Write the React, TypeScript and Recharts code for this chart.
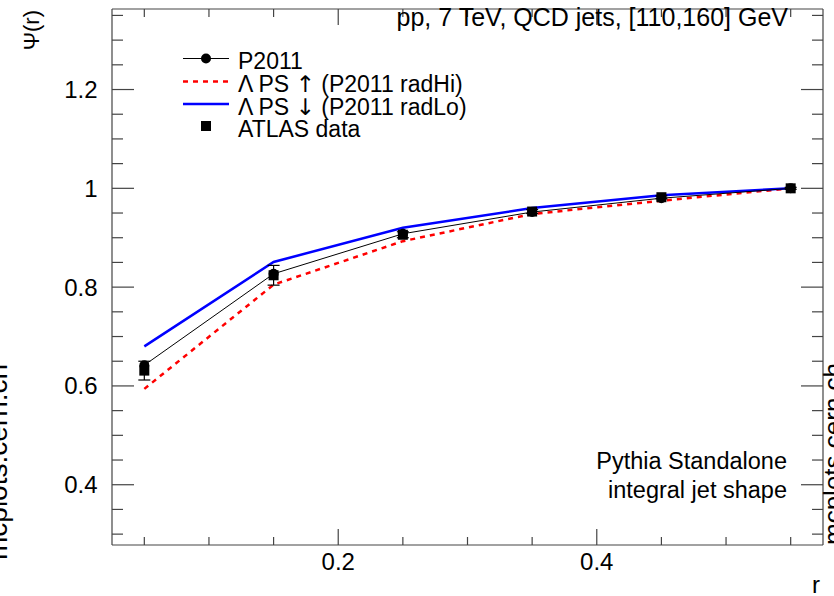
import React from 'react';
import { ComposedChart, Line, Scatter, XAxis, YAxis, ErrorBar } from 'recharts';

// ---- data ----
const rValues = [0.05, 0.15, 0.25, 0.35, 0.45, 0.55];
const p2011 = [0.642, 0.827, 0.908, 0.952, 0.98, 1.0];
const radHi = [0.594, 0.805, 0.893, 0.948, 0.975, 1.0];
const radLo = [0.68, 0.851, 0.92, 0.96, 0.986, 1.0];
const atlas = [0.631, 0.824, 0.906, 0.953, 0.982, 1.0];
const atlasErr = [0.019, 0.02, 0.006, 0.004, 0.003, 0.002];

const xTicks = [0.05, 0.1, 0.15, 0.2, 0.25, 0.3, 0.35, 0.4, 0.45, 0.5, 0.55];
const xMajor = [0.2, 0.4];
const xLabels = ['0.2', '0.4'];
const yTicks = [0.3, 0.35, 0.4, 0.45, 0.5, 0.55, 0.6, 0.65, 0.7, 0.75, 0.8, 0.85, 0.9, 0.95, 1.0, 1.05, 1.1, 1.15, 1.2, 1.25, 1.3, 1.35];
const yMajor = [0.4, 0.6, 0.8, 1.0, 1.2];
const yLabels = ['0.4', '0.6', '0.8', '1', '1.2'];

const xDomain = [0.025, 0.575];
const yDomain = [0.278, 1.363];

const data = rValues.map((r, i) => ({
  r,
  p2011: p2011[i],
  radHi: radHi[i],
  radLo: radLo[i],
  atlas: atlas[i],
  atlasErr: atlasErr[i],
}));

const FONT = '"Liberation Sans", Arial, Helvetica, sans-serif';
const AX = '#444';
const W = 834;
const H = 596;

const findIdx = (arr: number[], v: number) => arr.findIndex((m) => Math.abs(m - v) < 1e-9);

const BottomTick = (props: any) => {
  const { x, y, payload } = props;
  const idx = findIdx(xMajor, payload.value);
  const len = idx >= 0 ? 16 : 8;
  return (
    <g>
      <line x1={x} y1={y} x2={x} y2={y - len} stroke={AX} strokeWidth={1.2} />
      {idx >= 0 && (
        <text x={x} y={y + 24.5} textAnchor="middle" fontFamily={FONT} fontSize={24} fill="#000">
          {xLabels[idx]}
        </text>
      )}
    </g>
  );
};

const TopTick = (props: any) => {
  const { x, y, payload } = props;
  const idx = findIdx(xMajor, payload.value);
  const len = idx >= 0 ? 16 : 8;
  return <line x1={x} y1={y} x2={x} y2={y + len} stroke={AX} strokeWidth={1.2} />;
};

const LeftTick = (props: any) => {
  const { x, y, payload } = props;
  const idx = findIdx(yMajor, payload.value);
  const len = idx >= 0 ? 22 : 11;
  return (
    <g>
      <line x1={x} y1={y} x2={x + len} y2={y} stroke={AX} strokeWidth={1.2} />
      {idx >= 0 && (
        <text x={x - 14.5} y={y + 8.5} textAnchor="end" fontFamily={FONT} fontSize={24} fill="#000">
          {yLabels[idx]}
        </text>
      )}
    </g>
  );
};

const RightTick = (props: any) => {
  const { x, y, payload } = props;
  const idx = findIdx(yMajor, payload.value);
  const len = idx >= 0 ? 22 : 11;
  return <line x1={x} y1={y} x2={x - len} y2={y} stroke={AX} strokeWidth={1.2} />;
};

const SquareShape = (p: any) => {
  if (p.cx == null || p.cy == null) return <g />;
  return <rect x={p.cx - 5} y={p.cy - 5} width={10} height={10} fill="#000" />;
};

const ARROW_FONT = '"DejaVu Sans", "Noto Sans", sans-serif';
const UP = '\u2191\uFE0E';
const DOWN = '\u2193\uFE0E';

export default function App() {
  return (
    <div style={{ position: 'absolute', left: 0, top: 0, width: W, height: H, background: '#fff' }}>
      <ComposedChart
        width={W}
        height={H}
        data={data}
        margin={{ top: 0, right: 0, bottom: 0, left: 0 }}
      >
        <XAxis
          xAxisId="b"
          type="number"
          dataKey="r"
          domain={xDomain}
          allowDataOverflow
          ticks={xTicks}
          interval={0}
          height={51}
          tickSize={0}
          tickMargin={0}
          tickLine={false}
          axisLine={{ stroke: AX, strokeWidth: 1.2 }}
          tick={<BottomTick />}
        />
        <XAxis
          xAxisId="t"
          orientation="top"
          type="number"
          dataKey="r"
          domain={xDomain}
          allowDataOverflow
          ticks={xTicks}
          interval={0}
          height={9}
          tickSize={0}
          tickMargin={0}
          tickLine={false}
          axisLine={{ stroke: AX, strokeWidth: 1.2 }}
          tick={<TopTick />}
        />
        <YAxis
          yAxisId="l"
          type="number"
          domain={yDomain}
          allowDataOverflow
          ticks={yTicks}
          interval={0}
          width={112}
          tickSize={0}
          tickMargin={0}
          tickLine={false}
          axisLine={{ stroke: AX, strokeWidth: 1.2 }}
          tick={<LeftTick />}
        />
        <YAxis
          yAxisId="r"
          orientation="right"
          type="number"
          domain={yDomain}
          allowDataOverflow
          ticks={yTicks}
          interval={0}
          width={11}
          tickSize={0}
          tickMargin={0}
          tickLine={false}
          axisLine={{ stroke: AX, strokeWidth: 1.2 }}
          tick={<RightTick />}
        />
        <Line
          xAxisId="b"
          yAxisId="l"
          type="linear"
          dataKey="radHi"
          stroke="#ff0000"
          strokeWidth={2.5}
          strokeDasharray="5 5"
          dot={false}
          activeDot={false}
          isAnimationActive={false}
        />
        <Line
          xAxisId="b"
          yAxisId="l"
          type="linear"
          dataKey="radLo"
          stroke="#0000ff"
          strokeWidth={2.5}
          dot={false}
          activeDot={false}
          isAnimationActive={false}
        />
        <Scatter
          xAxisId="b"
          yAxisId="l"
          dataKey="atlas"
          fill="#000"
          shape={SquareShape}
          isAnimationActive={false}
        >
          <ErrorBar dataKey="atlasErr" direction="y" width={6} stroke="#000" strokeWidth={1.2} />
        </Scatter>
        <Line
          xAxisId="b"
          yAxisId="l"
          type="linear"
          dataKey="p2011"
          stroke="#000"
          strokeWidth={1}
          dot={{ r: 5, fill: '#000', stroke: '#000', strokeWidth: 0 }}
          activeDot={false}
          isAnimationActive={false}
        />
      </ComposedChart>

      <svg
        width={W}
        height={H}
        style={{ position: 'absolute', left: 0, top: 0, pointerEvents: 'none' }}
        fontFamily={FONT}
      >
        {/* top label */}
        <text x={788} y={26} textAnchor="end" fontSize={25} fill="#000">
          pp, 7 TeV, QCD jets, [110,160] GeV
        </text>

        {/* legend */}
        <line x1={183} y1={58.5} x2={229} y2={58.5} stroke="#000" strokeWidth={1} />
        <circle cx={206} cy={58.5} r={5} fill="#000" />
        <text x={238} y={68.5} fontSize={23} fill="#000">P2011</text>

        <line x1={183} y1={81.5} x2={229} y2={81.5} stroke="#ff0000" strokeWidth={2.5} strokeDasharray="5 5" />
        <text x={238} y={91.5} fontSize={23} fill="#000">
          Λ PS <tspan fontFamily={ARROW_FONT} fill="#000">{UP}</tspan> (P2011 radHi)
        </text>

        <line x1={183} y1={104} x2={229} y2={104} stroke="#0000ff" strokeWidth={2.5} />
        <text x={238} y={114.5} fontSize={23} fill="#000">
          Λ PS <tspan fontFamily={ARROW_FONT} fill="#000">{DOWN}</tspan> (P2011 radLo)
        </text>

        <rect x={201} y={121} width={10} height={10} fill="#000" />
        <text x={238} y={137} fontSize={23} fill="#000">ATLAS data</text>

        {/* bottom-right labels */}
        <text x={787} y={469} textAnchor="end" fontSize={23.5} fill="#000">Pythia Standalone</text>
        <text x={787} y={498} textAnchor="end" fontSize={23.5} fill="#000">integral jet shape</text>

        {/* axis titles */}
        <text x={39} y={10} transform="rotate(-90, 39, 10)" textAnchor="end" fontSize={22} fill="#000">
          Ψ(r)
        </text>
        <text x={820} y={593} textAnchor="end" fontSize={24} fill="#000">r</text>

        {/* watermarks */}
        <text x={6.5} y={560} transform="rotate(-90, 6.5, 560)" textAnchor="start" fontSize={28} fill="#000">
          mcplots.cern.ch
        </text>
        <text x={842} y={545} transform="rotate(-90, 842, 545)" textAnchor="start" fontSize={26} fill="#000">
          mcplots.cern.ch
        </text>
      </svg>
    </div>
  );
}
